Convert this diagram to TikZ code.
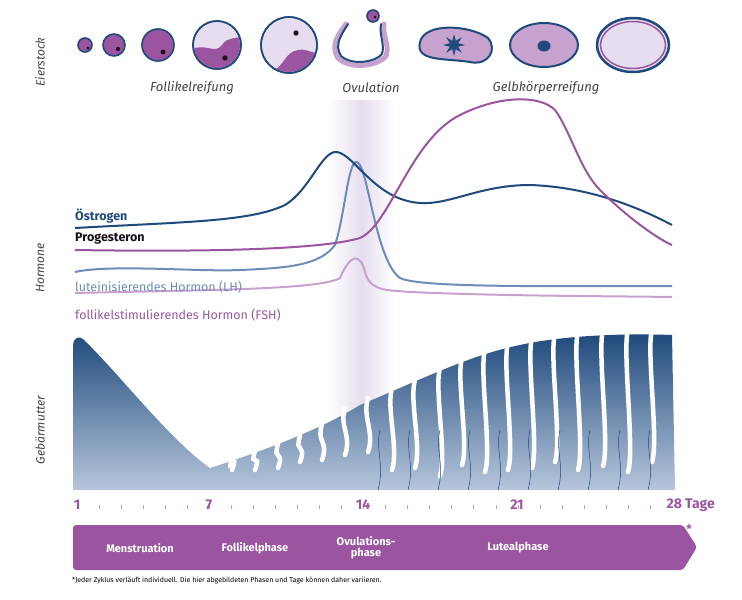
\documentclass[tikz,border=0pt]{standalone}
\usepackage{fontspec}
\setmainfont{Fira Sans}
\usetikzlibrary{positioning}
\definecolor{dblue}{HTML}{1F4A7C}
\definecolor{sblue}{HTML}{6C8DB8}
\definecolor{lila}{HTML}{9B55A0}
\definecolor{llila}{HTML}{C8A2CF}
\definecolor{pale}{HTML}{E6DDEE}
\definecolor{gray1}{HTML}{444444}
\tikzset{
  side/.style={rotate=90, font=\fontsize{12}{14}\selectfont\itshape, text=gray1},
  toplabel/.style={font=\fontsize{13}{15}\selectfont\itshape, text=gray1},
  follikel/.style={draw=dblue, line width=1.6pt, fill=lila},
  curve/.style={line width=2pt},
  hlabel/.style={anchor=west, font=\fontsize{12.5}{14}\selectfont\bfseries, inner sep=0pt},
  day/.style={font=\fontsize{14}{16}\selectfont\bfseries, text=lila},
  phase/.style={font=\fontsize{11}{12}\selectfont\bfseries, text=white, align=center}
}
\begin{document}
\begin{tikzpicture}[x=1pt,y=-1pt]
\useasboundingbox (0,0) rectangle (742,600);

% ovulation band
\shade[left color=white, right color=white, middle color=pale] (328,100) rectangle (395,490);

% side labels
\node[side] (eier) at (40,62) {Eierstock};
\node[side] (horm) at (40,268) {Hormone};
\node[side] (gebm) at (40,430) {Gebärmutter};

% follicles
\draw[follikel] (85,45) circle (7);
\fill[black!80!lila] (88,48) circle (1.6);
\draw[follikel] (114,45) circle (11);
\fill[black!80!lila] (118,49) circle (2.2);
\draw[follikel] (158,45) circle (16);
\fill[black!80!lila] (163,52) circle (2.5);
\draw[follikel, fill=pale] (217,45) circle (24);
\begin{scope}
  \clip (217,45) circle (23);
  \fill[lila] (190,80) -- (190,50) .. controls (205,42) and (215,55) .. (222,45) .. controls (228,36) and (235,40) .. (245,35) -- (245,80) -- cycle;
\end{scope}
\draw[dblue, line width=1.6pt] (217,45) circle (24);
\fill[black!80!lila] (225,58) circle (2.7);
\draw[follikel, fill=pale] (289,45) circle (28);
\begin{scope}
  \clip (289,45) circle (27);
  \fill[lila] (260,80) -- (272,72) .. controls (285,65) and (285,52) .. (298,50) .. controls (308,48) and (312,55) .. (320,52) -- (320,80) -- cycle;
\end{scope}
\draw[dblue, line width=1.6pt] (289,45) circle (28);
\fill[black!80!lila] (296,33) circle (2.7);
% ovulation
\draw[llila, line width=5pt, line cap=round] (346,24) .. controls (338,35) and (330,45) .. (338,58) .. controls (350,70) and (378,66) .. (386,56) .. controls (390,45) and (382,35) .. (384,24);
\draw[dblue, line width=2pt, line cap=round] (348,24) .. controls (341,35) and (334,45) .. (341,56) .. controls (352,66) and (376,62) .. (382,54) .. controls (385,44) and (379,35) .. (381,24);
\draw[follikel] (373,16) circle (6);
\fill[black!80!lila] (375,17) circle (1.5);
% corpus luteum
\draw[follikel, fill=llila, line width=2pt] (420,42) .. controls (425,22) and (470,25) .. (488,38) .. controls (498,50) and (488,66) .. (470,62) .. controls (445,58) and (415,62) .. (420,42) -- cycle;
\fill[dblue] (454,45) +(0:11) \foreach \a in {0,45,...,315}{ -- +(\a:11) -- +(\a+22.5:4.5)} -- cycle;
\draw[follikel, fill=llila, line width=2pt] (544,45) ellipse (34 and 22);
\fill[dblue] (544,46) ellipse (6.5 and 5.5);
\draw[lila, line width=4pt] (633,45) ellipse (34 and 25);
\draw[dblue, line width=2.5pt, fill=pale] (633,45) ellipse (36 and 27);
\draw[lila, line width=1.5pt] (633,45) ellipse (32.5 and 23.5);

\node[toplabel] (reif) at (192,88) {Follikelreifung};
\node[toplabel] (ovul) at (371,88) {Ovulation};
\node[toplabel] (gelb) at (546,88) {Gelbkörperreifung};

% hormone curves
\draw[curve, llila] (75,293) .. controls (200,290) and (320,290) .. (340,278) .. controls (350,255) and (360,250) .. (366,275) .. controls (372,292) and (390,290) .. (410,292) .. controls (500,296) and (600,296) .. (672,297);
\draw[curve, sblue] (75,272) .. controls (110,264) and (200,272) .. (240,270) .. controls (290,268) and (320,265) .. (335,245) .. controls (345,215) and (348,160) .. (357,162) .. controls (368,165) and (375,260) .. (400,278) .. controls (420,288) and (550,286) .. (672,286);
\draw[curve, dblue] (75,228) .. controls (180,222) and (250,222) .. (285,205) .. controls (310,190) and (322,150) .. (337,152) .. controls (355,155) and (375,200) .. (420,203) .. controls (450,205) and (480,185) .. (530,185) .. controls (590,187) and (640,208) .. (672,225);
\draw[curve, lila] (75,250) .. controls (200,252) and (320,250) .. (360,238) .. controls (390,225) and (410,140) .. (460,115) .. controls (500,95) and (540,95) .. (555,110) .. controls (570,130) and (580,170) .. (600,190) .. controls (630,220) and (660,240) .. (672,245);

\node[hlabel, text=dblue] (oest) at (75,216) {Östrogen};
\node[hlabel, text=black!85!lila] (prog) at (75,239) {Progesteron};
\node[hlabel, text=sblue, font=\fontsize{12.5}{14}\selectfont] (lh) at (75,287) {luteinisierendes Hormon (LH)};
\node[hlabel, text=lila, font=\fontsize{12.5}{14}\selectfont] (fsh) at (75,315) {follikelstimulierendes Hormon (FSH)};

% uterus
\shade[top color=dblue, bottom color=sblue!50] (73,490) -- (73,345) .. controls (74,336) and (80,335) .. (86,342)
  .. controls (120,375) and (170,440) .. (210,468) .. controls (260,452) and (320,430) .. (360,405)
  .. controls (420,380) and (470,355) .. (520,345) .. controls (560,336) and (620,333) .. (672,335) -- (675,490) -- cycle;
\foreach \x/\t/\b in {232/462/470, 255/455/470, 278/448/468, 300/440/462, 322/428/460, 345/412/455, 368/402/452, 392/392/470, 415/384/468, 440/372/476, 462/362/465, 485/354/472, 508/347/470, 532/342/468, 555/338/462, 578/336/470, 603/334/466, 628/334/472, 652/334/462}
  \draw[white, line width=4.5pt, line cap=round] (\x,\t-4) .. controls (\x-6,\t+15) and (\x+7,\b-20) .. (\x,\b);
\foreach \x in {380,410,440,470,500,530,560,590,620,650}
  \draw[dblue, line width=0.5pt] (\x,430) .. controls (\x-5,450) and (\x+5,465) .. (\x-2,490);
\fill[white] (73,490) rectangle (680,494);

% day axis
\foreach \d in {2,...,27}
  \draw[lila!60, line width=0.5pt] ({77+(\d-1)*22.04},505) -- ++(0,4);
\node[day] (d1) at (77,505) {1};
\node[day] (d7) at (209,505) {7};
\node[day] (d14) at (363,505) {14};
\node[day] (d21) at (517,505) {21};
\node[day, anchor=west] (d28) at (663,505) {28 Tage};

% phase arrow
\fill[lila, rounded corners=3pt] (73,525) -- (683,525) -- (697,547) -- (683,570) -- (73,570) -- cycle;
\node[day, font=\fontsize{12}{14}\selectfont\bfseries] (stern) at (689,529) {*};
\node[phase] (mens) at (140,548) {Menstruation};
\node[phase] (foll) at (255,548) {Follikelphase};
\node[phase, font=\fontsize{11}{11}\selectfont\bfseries] (ovph) at (366,548) {Ovulations-\\phase};
\node[phase] (lut) at (518,548) {Lutealphase};
\node[anchor=west, font=\fontsize{7}{8}\selectfont, inner sep=0pt] (note) at (72,581) {*Jeder Zyklus verläuft individuell. Die hier abgebildeten Phasen und Tage können daher variieren.};
\end{tikzpicture}
\end{document}
